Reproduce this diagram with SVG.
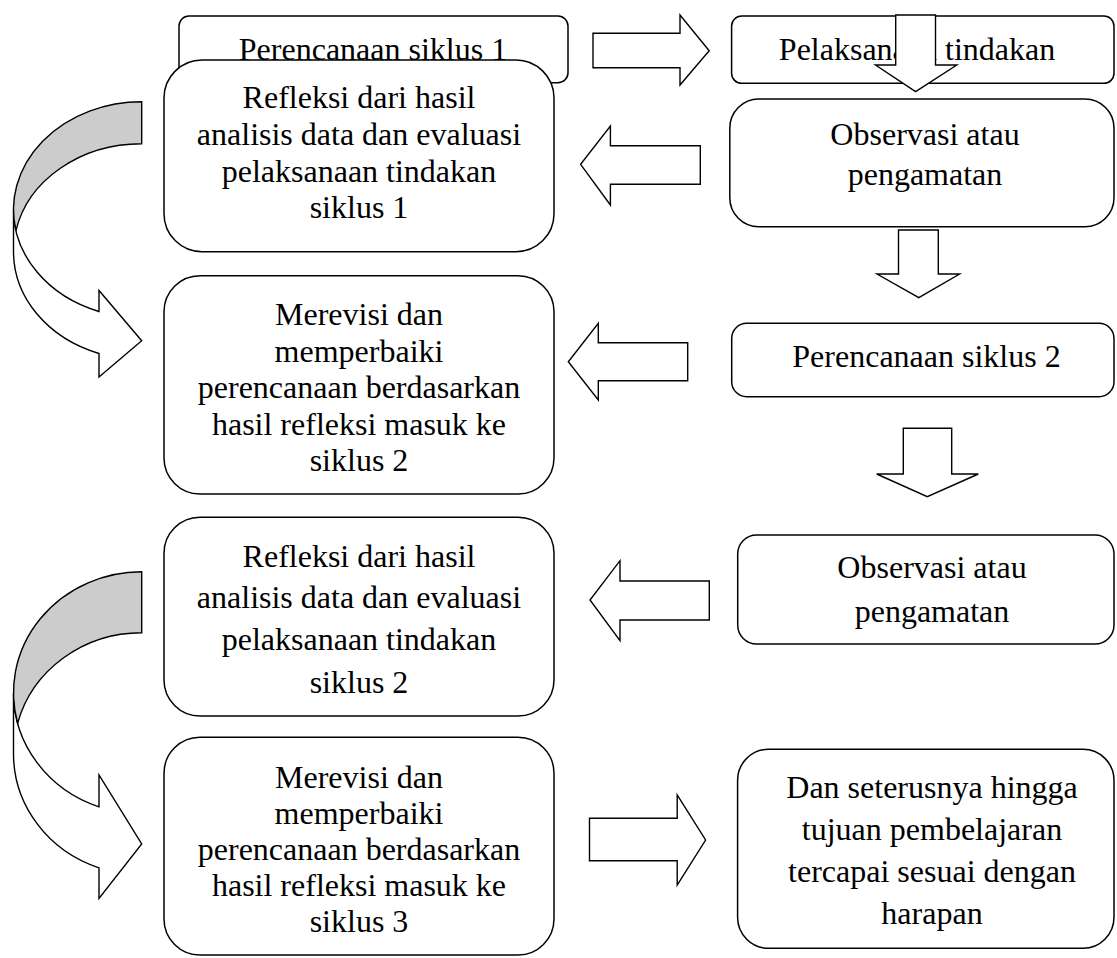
<svg xmlns="http://www.w3.org/2000/svg" width="1117" height="958" viewBox="0 0 1117 958">
<style>
.box{fill:#fff;stroke:#000;stroke-width:1.5}
.arr{fill:#fff;stroke:#000;stroke-width:1.4;stroke-linejoin:miter}
.back{fill:#cccccc;stroke:#000;stroke-width:1.4}
text{font-family:"Liberation Serif","Times New Roman",serif;font-size:32px;fill:#000;text-anchor:middle}
</style>
<rect width="1117" height="958" fill="#fff"/>
<g id="plan1">
<rect class="box" x="179" y="16" width="389" height="66.7" rx="10"/>
<text x="373" y="60">Perencanaan siklus 1</text>
</g>
<g id="refleksi1">
<rect class="box" x="164" y="60" width="390" height="191.7" rx="38"/>
<text x="359" y="108.3">Refleksi dari hasil</text>
<text x="359" y="145">analisis data dan evaluasi</text>
<text x="359" y="181.7">pelaksanaan tindakan</text>
<text x="359" y="218.3">siklus 1</text>
</g>
<g id="pelaksanaan">
<rect class="box" x="731.6" y="16" width="382.4" height="67.3" rx="10"/>
<text x="917" y="59.5">Pelaksanaan tindakan</text>
</g>
<g id="observasi1">
<rect class="box" x="729.8" y="99" width="384.2" height="127.7" rx="29"/>
<text x="925" y="145">Observasi atau</text>
<text x="925" y="185">pengamatan</text>
</g>
<g id="merevisi1">
<rect class="box" x="164" y="275.7" width="390" height="218.3" rx="36"/>
<text x="359" y="325">Merevisi dan</text>
<text x="359" y="361.5">memperbaiki</text>
<text x="359" y="398">perencanaan berdasarkan</text>
<text x="359" y="434.5">hasil refleksi masuk ke</text>
<text x="359" y="471">siklus 2</text>
</g>
<g id="plan2">
<rect class="box" x="731.7" y="323.3" width="382.3" height="73.4" rx="15"/>
<text x="926.5" y="366.7">Perencanaan siklus 2</text>
</g>
<g id="refleksi2">
<rect class="box" x="164" y="517.3" width="390" height="198.7" rx="36"/>
<text x="359" y="566.7">Refleksi dari hasil</text>
<text x="359" y="608.3">analisis data dan evaluasi</text>
<text x="359" y="650">pelaksanaan tindakan</text>
<text x="359" y="692.7">siklus 2</text>
</g>
<g id="observasi2">
<rect class="box" x="737.7" y="535" width="376.3" height="109" rx="19"/>
<text x="932" y="578.3">Observasi atau</text>
<text x="932" y="621.7">pengamatan</text>
</g>
<g id="merevisi2">
<rect class="box" x="164" y="737.3" width="390" height="217.7" rx="36"/>
<text x="359" y="788">Merevisi dan</text>
<text x="359" y="824">memperbaiki</text>
<text x="359" y="860">perencanaan berdasarkan</text>
<text x="359" y="896">hasil refleksi masuk ke</text>
<text x="359" y="932">siklus 3</text>
</g>
<g id="seterusnya">
<rect class="box" x="737.6" y="749.3" width="376.4" height="199" rx="31"/>
<text x="932" y="798.3">Dan seterusnya hingga</text>
<text x="932" y="840">tujuan pembelajaran</text>
<text x="932" y="881.7">tercapai sesuai dengan</text>
<text x="932" y="924">harapan</text>
</g>
<g id="connectors">
<path class="arr" d="M593,33.3 H680 V15 L709.2,50.7 L680,85 V67.7 H593 Z"/>
<path class="arr" d="M895.7,15 H935.5 V65 H956.8 L915.6,91.7 L875.5,65 H895.7 Z"/>
<path class="arr" d="M700.3,145.7 H610.4 V126 L580.6,164.3 L610.4,205 V184.3 H700.3 Z"/>
<path class="arr" d="M898.5,230 H938.3 V274 H959.6 L918.8,297.7 L877,274 H898.5 Z"/>
<path class="arr" d="M687.7,342.7 H598.3 V323.3 L568.3,361.7 L598.3,400 V380.7 H687.7 Z"/>
<path class="arr" d="M903.3,428.3 H951.7 V474 H978.3 L927.3,496.7 L876.7,474 H903.3 Z"/>
<path class="arr" d="M709.3,581 H620 V560.7 L590,600 L620,640.7 V620 H709.3 Z"/>
<path class="arr" d="M589.5,818.3 H677.2 V795 L705.6,840 L677.2,885 V860.7 H589.5 Z"/>
<path class="arr" d="M13.5,209.7 A128.2,108 0 0 0 99,311.5 L99,290.5 L141.7,340.7 L99,377 L99,353.5 A128.2,108 0 0 1 13.5,251.7 Z"/>
<path class="back" d="M141.7,101.7 A128.2,108 0 0 0 15.95,230.7 A128.2,108 0 0 1 141.7,143.7 Z"/>
<path class="arr" d="M13.5,692.7 A128.2,121 0 0 0 99,806.8 L99,775 L141.7,844 L99,898.5 L99,867.8 A128.2,121 0 0 1 13.5,753.7 Z"/>
<path class="back" d="M141.7,571.7 A128.2,121 0 0 0 17.64,723.2 A128.2,121 0 0 1 141.7,632.7 Z"/>
</g>
</svg>
